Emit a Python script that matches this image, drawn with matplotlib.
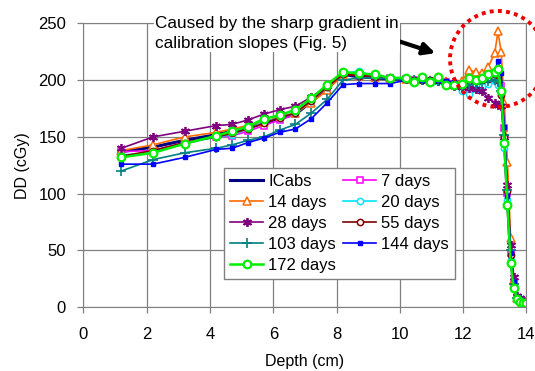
import numpy as np
import matplotlib
matplotlib.use("Agg")
import matplotlib.pyplot as plt
from matplotlib.patches import Ellipse

plt.rcParams['font.family'] = ['Liberation Sans', 'DejaVu Sans']

depth = [1.2, 2.2, 3.2, 4.2, 4.7, 5.2, 5.7, 6.2, 6.7, 7.2, 7.7, 8.2, 8.7, 9.2, 9.7,
         10.2, 10.45, 10.7, 10.95, 11.2, 11.45, 11.7, 11.95, 12.2, 12.4, 12.6, 12.8,
         13.0, 13.1, 13.2, 13.3, 13.4, 13.5, 13.6, 13.7, 13.8, 13.9, 14.0]

icabs = [137, 141, 147, 152, 155, 158, 162, 166, 170, 181, 193, 205, 203, 202, 201,
         201, 200, 200, 200, 200, 199, 198, 198, 199, 199, 200, 200,
         200, 199, 195, 150, 95, 45, 18, 8, 6, 5, 5]
d7 = [137, 138, 145, 150, 151, 155, 160, 165, 170, 182, 193, 205, 204, 203, 202,
      201, 200, 201, 199, 200, 198, 197, 196, 200, 199, 201, 203,
      205, 203, 195, 158, 101, 48, 20, 8, 6, 5, 5]
d14 = [138, 143, 150, 154, 157, 160, 163, 168, 171, 180, 191, 205, 204, 203, 202,
       201, 200, 202, 200, 203, 199, 198, 199, 209, 207, 206, 212,
       224, 243, 225, 180, 128, 61, 24, 8, 6, 5, 5]
d20 = [134, 136, 144, 150, 152, 157, 163, 167, 171, 182, 194, 206, 208, 203, 202,
       201, 200, 200, 199, 199, 197, 195, 190, 188, 192, 195, 197,
       199, 196, 190, 140, 94, 42, 16, 7, 6, 5, 5]
d28 = [140, 150, 155, 160, 161, 165, 170, 174, 177, 185, 195, 206, 204, 203, 202,
       201, 199, 200, 198, 199, 197, 195, 194, 193, 192, 190, 184,
       180, 178, 177, 150, 108, 55, 27, 10, 8, 6, 5]
d55 = [133, 138, 145, 150, 153, 157, 162, 167, 171, 182, 194, 205, 204, 203, 202,
       201, 200, 200, 200, 200, 198, 197, 197, 199, 199, 200, 201,
       205, 200, 187, 150, 102, 46, 18, 8, 6, 5, 5]
d103 = [120, 130, 136, 140, 143, 147, 150, 156, 161, 171, 183, 200, 202, 202, 201,
        201, 200, 200, 199, 199, 197, 196, 195, 196, 197, 198, 199,
        200, 198, 190, 152, 103, 50, 20, 8, 6, 5, 5]
d144 = [126, 126, 132, 139, 140, 145, 149, 154, 157, 166, 180, 196, 197, 197, 197,
        200, 200, 200, 200, 200, 199, 198, 197, 200, 201, 203, 205,
        208, 217, 206, 159, 98, 48, 22, 9, 6, 5, 5]
d172 = [132, 136, 144, 151, 155, 159, 166, 169, 174, 184, 196, 207, 206, 205, 202,
        202, 198, 203, 198, 203, 196, 196, 197, 202, 200, 202, 205,
        207, 210, 190, 145, 90, 39, 17, 7, 5, 4, 4]

fig = plt.figure(figsize=(5.35, 3.71), dpi=100)
ax = fig.add_axes([0.156, 0.172, 0.828, 0.765])

lines = {}
lines['ICabs'] = ax.plot(depth, icabs, color='#000080', lw=2.2)[0]
lines['7 days'] = ax.plot(depth, d7, color='#ff00ff', lw=1.2, marker='s', ms=4.5,
                          mfc='white', mew=1.1)[0]
lines['14 days'] = ax.plot(depth, d14, color='#ff6a00', lw=1.2, marker='^', ms=5.5,
                           mfc='white', mew=1.1)[0]
lines['20 days'] = ax.plot(depth, d20, color='#00e5ff', lw=1.2, marker='o', ms=4.5,
                           mfc='white', mew=1.1)[0]
lines['28 days'] = ax.plot(depth, d28, color='#800080', lw=1.2, marker=(6, 2, 0), ms=6.5,
                           mew=1.3)[0]
lines['55 days'] = ax.plot(depth, d55, color='#800000', lw=1.2, marker='o', ms=4.5,
                           mfc='white', mew=1.1)[0]
lines['103 days'] = ax.plot(depth, d103, color='#008080', lw=1.2, marker='+', ms=7,
                            mew=1.2)[0]
lines['144 days'] = ax.plot(depth, d144, color='#0000ff', lw=1.2, marker='s', ms=2.5)[0]
lines['172 days'] = ax.plot(depth, d172, color='#00ee00', lw=1.8, marker='o', ms=5.5,
                            mfc='white', mew=1.6)[0]

ax.set_xlim(0, 14)
ax.set_ylim(0, 250)
ax.set_xticks(np.arange(0, 15, 2))
ax.set_yticks(np.arange(0, 251, 50))
ax.grid(True, color='#808080', lw=0.9)
ax.set_axisbelow(True)
for s in ax.spines.values():
    s.set_color('#808080')
ax.tick_params(colors='#808080', labelcolor='black', labelsize=12, length=4, width=0.9)
ax.tick_params(axis='x', pad=10)
ax.tick_params(axis='y', pad=8.5)
ax.set_xlabel('Depth (cm)', fontsize=11.5, labelpad=9)
ax.set_ylabel('DD (cGy)', fontsize=11.5, labelpad=6)

order = ['ICabs', '14 days', '28 days', '103 days', '172 days',
         '7 days', '20 days', '55 days', '144 days']
leg = ax.legend([lines[k] for k in order], order, ncol=2, loc='lower left',
                bbox_to_anchor=(0.318, 0.10), fontsize=12, handlelength=2.0,
                labelspacing=0.36, columnspacing=0.4, handletextpad=0.3,
                borderpad=0.35, borderaxespad=0, fancybox=False, framealpha=1)
leg.get_frame().set_edgecolor('#808080')
leg.get_frame().set_linewidth(1.0)

fig.text(155 / 535, 1 - 16 / 371, 'Caused by the sharp gradient in\ncalibration slopes (Fig. 5)',
         fontsize=12.3, ha='left', va='top', linespacing=1.4, zorder=5,
         bbox=dict(facecolor='white', edgecolor='none', pad=1))

fig.patches.append(Ellipse((498 / 535, 1 - 59 / 371), 96 / 535, 96 / 371,
                           transform=fig.transFigure, fill=False, edgecolor='#ee0000',
                           lw=2.8, linestyle=(0, (1, 1.1)), zorder=6))

ax.annotate('', xy=(438 / 535, 1 - 54 / 371), xytext=(395 / 535, 1 - 40 / 371),
            xycoords='figure fraction', textcoords='figure fraction',
            arrowprops=dict(arrowstyle='-|>,head_length=0.7,head_width=0.35',
                            color='black', lw=3), annotation_clip=False)

fig.savefig('out.png', dpi=100)
